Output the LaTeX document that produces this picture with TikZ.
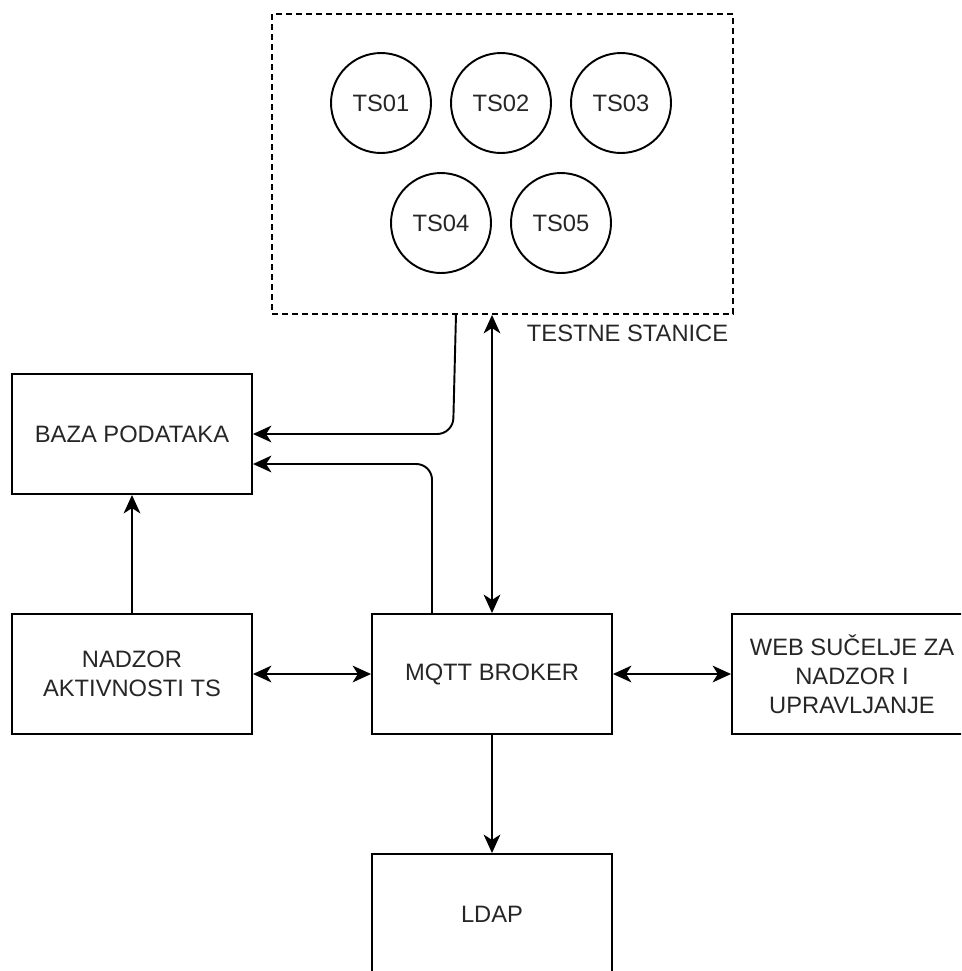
\documentclass[tikz,border=0pt]{standalone}
\usepackage{fontspec}
\setmainfont{Liberation Sans}
\usetikzlibrary{arrows.meta}

\begin{document}
\begin{tikzpicture}[x=0.02cm, y=-0.02cm, line width=1.1pt,
		>={Stealth[length=10.5pt,width=9.5pt,inset=3pt]},
		lbl/.style={font=\fontsize{13.5}{16.5}\selectfont, text=black!85},
		blok/.style={lbl, rectangle, draw, minimum width=4.8cm, minimum height=2.4cm, align=center},
		stanica/.style={lbl, circle, draw, minimum size=2cm, inner sep=0pt}]
		\useasboundingbox (0,0) rectangle (961,971);
		\clip (0,0) rectangle (961,971);

		% testne stanice
		\node[draw, dash pattern=on 3.4pt off 2.3pt, minimum width=9.22cm, minimum height=6cm] (ts) at (502.5,164) {};
		\node[lbl, anchor=east] (tslbl) at (735,333) {TESTNE STANICE};
		\node[stanica] (ts01) at (381,103) {TS01};
		\node[stanica] (ts02) at (501,103) {TS02};
		\node[stanica] (ts03) at (621,103) {TS03};
		\node[stanica] (ts04) at (441,223) {TS04};
		\node[stanica] (ts05) at (561,223) {TS05};

		% blokovi
		\node[blok] (baza) at (132,434) {BAZA PODATAKA};
		\node[blok] (nadzor) at (132,674) {NADZOR\\AKTIVNOSTI TS};
		\node[blok] (mqtt) at (492,674) {MQTT BROKER};
		\node[blok] (web) at (852,674) {WEB SUČELJE ZA\\NADZOR I\\UPRAVLJANJE};
		\node[blok] (ldap) at (492,914) {LDAP};

		% veze
		\coordinate (tsout) at (456,314);
		\draw [->, rounded corners=9pt] (tsout) -- (453,434) -- (baza.east);
		\draw [->, rounded corners=9pt] ([xshift=-1.2cm]mqtt.north) |- ([yshift=-0.6cm]baza.east);
		\draw [<->] (mqtt.north) -- (mqtt.north |- ts.south);
		\draw [->] (nadzor) -- (baza);
		\draw [<->] (nadzor) -- (mqtt);
		\draw [<->] (mqtt) -- (web);
		\draw [->] (mqtt) -- (ldap);
\end{tikzpicture}
\end{document}
